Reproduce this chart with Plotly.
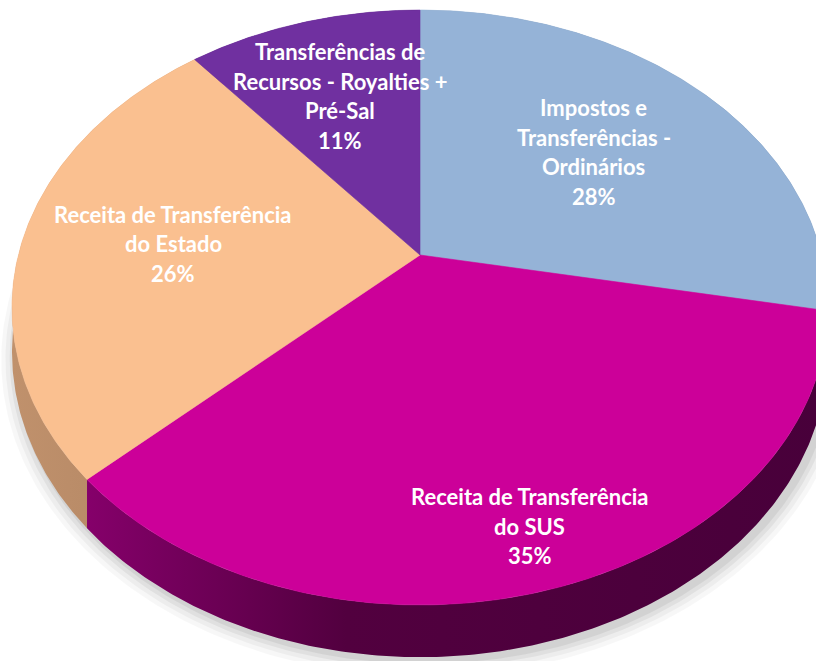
import numpy as np
import plotly.graph_objects as go

# ---------------- data ----------------
categories = [
    "Impostos e Transferências - Ordinários",
    "Receita de Transferência do SUS",
    "Receita de Transferência do Estado",
    "Transferências de Recursos - Royalties + Pré-Sal",
]
label_lines = [
    ["Impostos e", "Transferências -", "Ordinários"],
    ["Receita de Transferência", "do SUS"],
    ["Receita de Transferência", "do Estado"],
    ["Transferências de", "Recursos - Royalties +", "Pré-Sal"],
]
values = [28, 35, 26, 11]

# ---------------- style ----------------
top_colors = ["#95B3D7", "#CC0099", "#FAC090", "#7030A0"]
wall_scales = [
    [[0, "#7F98B8"], [1, "#5F7896"]],
    [[0, "#85006A"], [0.35, "#52003F"], [1, "#48003A"]],
    [[0, "#C0916C"], [1, "#B08462"]],
    [[0, "#52207A"], [1, "#3E175E"]],
]
label_radius = [0.60, 0.84, 0.62, 0.65]
FONT = dict(family="Lato", size=22, color="white", weight="bold")
LINE_H = 29.5

W, H = 816, 661
CX, CY = 420.0, 255.0
A, B, K, D = 401.6, 288.2, 0.1765, 43.0


def proj(theta, r=1.0, h=0.0):
    u = r * np.sin(theta)
    v = r * np.cos(theta)
    den = 1 + K * v
    return CX + A * u / den, CY - B * v / den + D * h / den


total = float(sum(values))
fr = np.cumsum([0] + values) / total
angles = fr * 2 * np.pi

fig = go.Figure()

# soft shadow
full = np.linspace(0, 2 * np.pi, 361)
for i, (sc, op) in enumerate([(1.035, 0.03), (1.025, 0.04), (1.015, 0.05), (1.006, 0.06)]):
    sx, sy = proj(full, r=sc, h=1.0)
    fig.add_trace(go.Scatter(x=sx + 4, y=sy + 4, mode="lines", fill="toself",
                             fillcolor=f"rgba(0,0,0,{op})", line=dict(width=0),
                             hoverinfo="skip", showlegend=False))

# side walls
for i in range(len(values)):
    t = np.linspace(angles[i], angles[i + 1], 200)
    x0, y0 = proj(t, 1.0, 0.0)
    x1, y1 = proj(t[::-1], 1.0, 1.0)
    fig.add_trace(go.Scatter(
        x=np.concatenate([x0, x1, x0[:1]]), y=np.concatenate([y0, y1, y0[:1]]),
        mode="lines", fill="toself",
        fillgradient=dict(type="horizontal", colorscale=wall_scales[i]),
        line=dict(width=0, color=wall_scales[i][-1][1]),
        hoverinfo="skip", showlegend=False))

# top faces
for i in range(len(values)):
    t = np.linspace(angles[i], angles[i + 1], 200)
    ax, ay = proj(t, 1.0, 0.0)
    fig.add_trace(go.Scatter(
        x=np.concatenate([[CX], ax, [CX]]), y=np.concatenate([[CY], ay, [CY]]),
        mode="lines", fill="toself", fillcolor=top_colors[i],
        line=dict(width=0.6, color=top_colors[i]),
        name=categories[i], hoverinfo="name", showlegend=False))

# labels
for i in range(len(values)):
    mid = (angles[i] + angles[i + 1]) / 2
    lx, ly = proj(mid, label_radius[i], 0.0)
    lines = label_lines[i] + [f"{round(values[i] / total * 100)}%"]
    n = len(lines)
    for j, s in enumerate(lines):
        fig.add_annotation(x=float(lx), y=float(ly + (j - (n - 1) / 2) * LINE_H),
                           text=s, showarrow=False, font=FONT,
                           xanchor="center", yanchor="middle")

fig.update_layout(
    width=W, height=H, margin=dict(l=0, r=0, t=0, b=0),
    paper_bgcolor="white", plot_bgcolor="white",
    xaxis=dict(range=[0, W], visible=False, fixedrange=True),
    yaxis=dict(range=[H, 0], visible=False, fixedrange=True),
    showlegend=False,
)
fig.write_html("out.html")
